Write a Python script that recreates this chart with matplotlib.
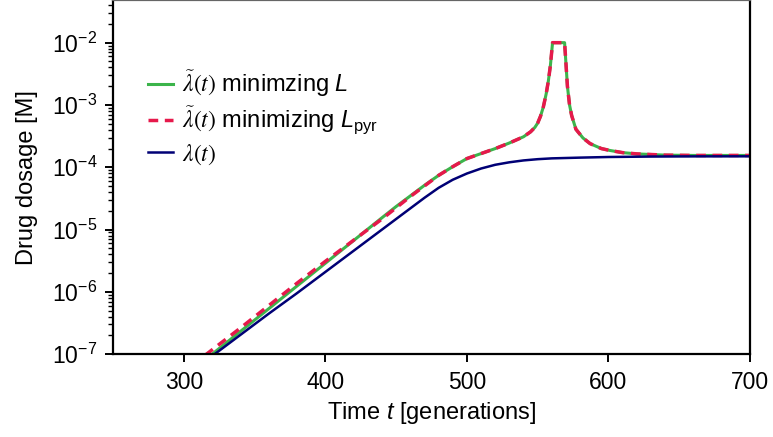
import matplotlib

matplotlib.use("Agg")
import matplotlib.pyplot as plt
import numpy as np

# values (log10 of drug dosage in M)
t_green = [310, 320, 340, 360, 380, 400, 420, 440, 450, 460, 470, 480, 490,
           500, 510, 520, 530, 540, 545, 548, 550, 552, 554, 556, 557.5, 559,
           560.5, 569, 570, 571, 572.5, 574, 577, 582, 587, 595, 601, 610,
           620, 640, 660, 700]
log_green = [-7.18, -7.00, -6.635, -6.27, -5.905, -5.54, -5.175, -4.81, -4.63,
             -4.46, -4.29, -4.13, -3.99, -3.86, -3.78, -3.70, -3.61, -3.51,
             -3.43, -3.36, -3.29, -3.18, -3.03, -2.82, -2.62, -2.36, -2.0,
             -2.0, -2.35, -2.70, -3.00, -3.17, -3.39, -3.53, -3.62, -3.70,
             -3.73, -3.765, -3.785, -3.805, -3.81, -3.81]

t_red = [306, 316, 340, 360, 380, 400, 420, 440, 450, 460, 470, 480, 490,
         500, 510, 520, 530, 540, 545, 548, 550, 552, 554, 556, 557.5, 559,
         560.5, 569, 570, 571, 572.5, 574, 577, 582, 587, 595, 601, 610,
         620, 640, 660, 700]
log_red = [-7.18, -7.00, -6.58, -6.22, -5.86, -5.51, -5.17, -4.83, -4.65,
           -4.47, -4.30, -4.13, -3.99, -3.86, -3.78, -3.70, -3.61, -3.51,
           -3.43, -3.36, -3.29, -3.18, -3.03, -2.82, -2.62, -2.36, -2.0,
           -2.0, -2.35, -2.70, -3.00, -3.17, -3.39, -3.53, -3.62, -3.70,
           -3.73, -3.765, -3.785, -3.805, -3.81, -3.81]

t_blue = [310, 320, 340, 360, 380, 400, 420, 440, 460, 470, 480, 490, 500,
          510, 520, 530, 540, 550, 560, 580, 600, 630, 660, 700]
log_blue = [-7.20, -7.03, -6.69, -6.35, -6.02, -5.68, -5.34, -5.00, -4.66,
            -4.49, -4.33, -4.20, -4.10, -4.02, -3.96, -3.92, -3.89, -3.87,
            -3.857, -3.845, -3.835, -3.828, -3.825, -3.824]

labels = [
    r"$\mathcal{\tilde{\lambda}}\mathsf{(}\mathcal{t}\mathsf{)}$ minimzing $L$",
    r"$\mathcal{\tilde{\lambda}}\mathsf{(}\mathcal{t}\mathsf{)}$ minimizing $L_\mathrm{pyr}$",
    r"$\mathcal{\lambda}\mathsf{(}\mathcal{t}\mathsf{)}$",
]

with plt.rc_context(
    {
        "font.family": ["Liberation Sans", "DejaVu Sans"],
        "mathtext.fontset": "custom",
        "mathtext.rm": "Liberation Sans",
        "mathtext.it": "Liberation Sans:italic",
        "mathtext.sf": "STIXGeneral",
        "mathtext.cal": "STIXGeneral:italic",
        "xtick.labelsize": 16.5,
        "ytick.labelsize": 16.5,
        "axes.linewidth": 1.6,
    }
):
    fig = plt.figure(figsize=(7.73, 4.37), dpi=100)
    ax = fig.add_axes([0.1462, 0.1895, 0.8241, 0.8105])

    ax.plot(t_green, 10 ** np.array(log_green), color="#3cb44b", lw=2.2,
            label=labels[0])
    ax.plot(t_red, 10 ** np.array(log_red), color="#e6194b", lw=2.5,
            ls=(0, (2.8, 1.9)), label=labels[1])
    ax.plot(t_blue, 10 ** np.array(log_blue), color="#000075", lw=1.8,
            label=labels[2])

    ax.set_yscale("log")
    ax.set_xlim(250, 700)
    ax.set_ylim(1e-7, 0.0484)
    ax.set_xticks([300, 400, 500, 600, 700])

    ax.tick_params(which="major", direction="out", length=5.8, width=1.4)
    ax.tick_params(axis="x", which="major", pad=6.5)
    ax.tick_params(axis="y", which="major", pad=5.5)
    ax.tick_params(which="minor", direction="out", length=3.3, width=1.0)
    ax.spines["top"].set_color("#666666")

    ax.set_xlabel(r"Time $t$ [generations]", fontsize=17, labelpad=4)
    ax.set_ylabel("Drug dosage [M]", fontsize=17, labelpad=10)

    ax.legend(
        loc="upper left",
        bbox_to_anchor=(0.055, 0.807),
        frameon=False,
        fontsize=17,
        handlelength=1.05,
        handletextpad=0.4,
        labelspacing=0.24,
        borderpad=0,
        borderaxespad=0,
    )

    fig.savefig("out.png", dpi=100)
